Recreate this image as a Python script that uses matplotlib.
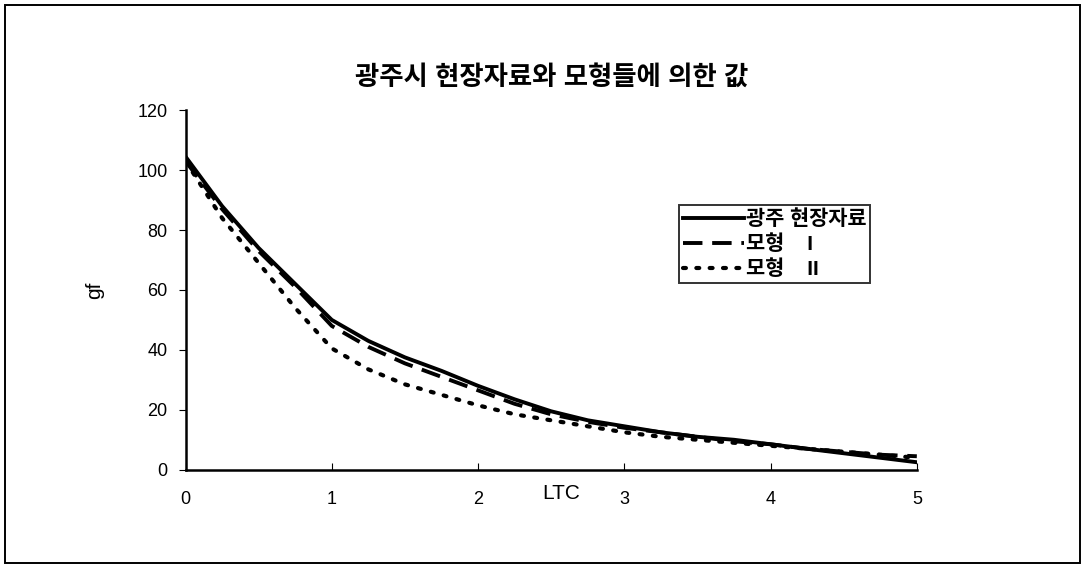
import matplotlib
matplotlib.use("Agg")
import matplotlib.pyplot as plt
from matplotlib.patches import Rectangle

plt.rcParams['font.family'] = ['Liberation Sans', 'Noto Sans CJK KR']

# data
ltc = [0, 0.25, 0.5, 0.75, 1.0, 1.25, 1.5, 1.75, 2.0, 2.25, 2.5, 2.75, 3.0, 3.25, 3.5, 3.75, 4.0, 4.25, 4.5, 4.75, 5.0]
field_gf = [104.5, 88, 74, 62, 50, 43, 37.5, 33, 28, 23.5, 19.5, 16.5, 14.5, 12.5, 11, 10, 8.5, 7, 5.5, 4, 2.5]
model1_gf = [103, 87, 73, 61, 48, 41, 35.5, 31, 26.5, 22, 18.5, 16, 14, 12.5, 11, 9.5, 8.5, 7, 6, 5, 4.5]
model2_gf = [103, 84, 69, 54, 40.5, 33.5, 28.5, 25, 21.5, 18.5, 16.5, 14.5, 12.5, 11, 10, 9, 8, 7, 6, 5, 4]

labels = ['광주 현장자료', '모형    I', '모형    II']
title = '광주시 현장자료와 모형들에 의한 값'

fig = plt.figure(figsize=(10.85, 5.68), dpi=100)
ax = fig.add_axes([0.171, 0.173, 0.674, 0.633])

ax.plot(ltc, field_gf, color='black', lw=2.8, label=labels[0])
ax.plot(ltc, model1_gf, color='black', lw=2.8, dashes=(5, 2.5), label=labels[1])
ax.plot(ltc, model2_gf, color='black', lw=3.0, dashes=(0.7, 2.5), dash_capstyle='round', label=labels[2])

ax.set_xlim(0, 5)
ax.set_ylim(0, 120)
ax.set_xticks([0, 1, 2, 3, 4, 5])
ax.set_yticks([0, 20, 40, 60, 80, 100, 120])
ax.spines['top'].set_visible(False)
ax.spines['right'].set_visible(False)
ax.spines['left'].set_linewidth(1.8)
ax.spines['bottom'].set_linewidth(1.8)
ax.tick_params(axis='x', direction='in', length=5, labelsize=13, pad=15)
ax.tick_params(axis='y', direction='out', length=5, labelsize=13, pad=8)

ax.set_ylabel('gf', fontsize=15, labelpad=24)
ax.text(2.57, -0.04, 'LTC', transform=ax.get_xaxis_transform(), ha='center', va='top', fontsize=15)
ax.set_title(title, fontsize=19, fontweight='bold', pad=18)

leg = ax.legend(loc='upper left', bbox_to_anchor=(0.675, 0.736), frameon=True, fancybox=False,
                edgecolor='black', fontsize=15, handlelength=2.9, handletextpad=0.1,
                borderpad=0.2, labelspacing=0.25, borderaxespad=0)
leg.get_frame().set_linewidth(1.4)
for t in leg.get_texts():
    t.set_fontweight('bold')

fig.patches.append(Rectangle((0.005, 0.009), 0.99, 0.982, transform=fig.transFigure,
                             fill=False, edgecolor='black', lw=1.4))

fig.savefig('out.png', dpi=100)
